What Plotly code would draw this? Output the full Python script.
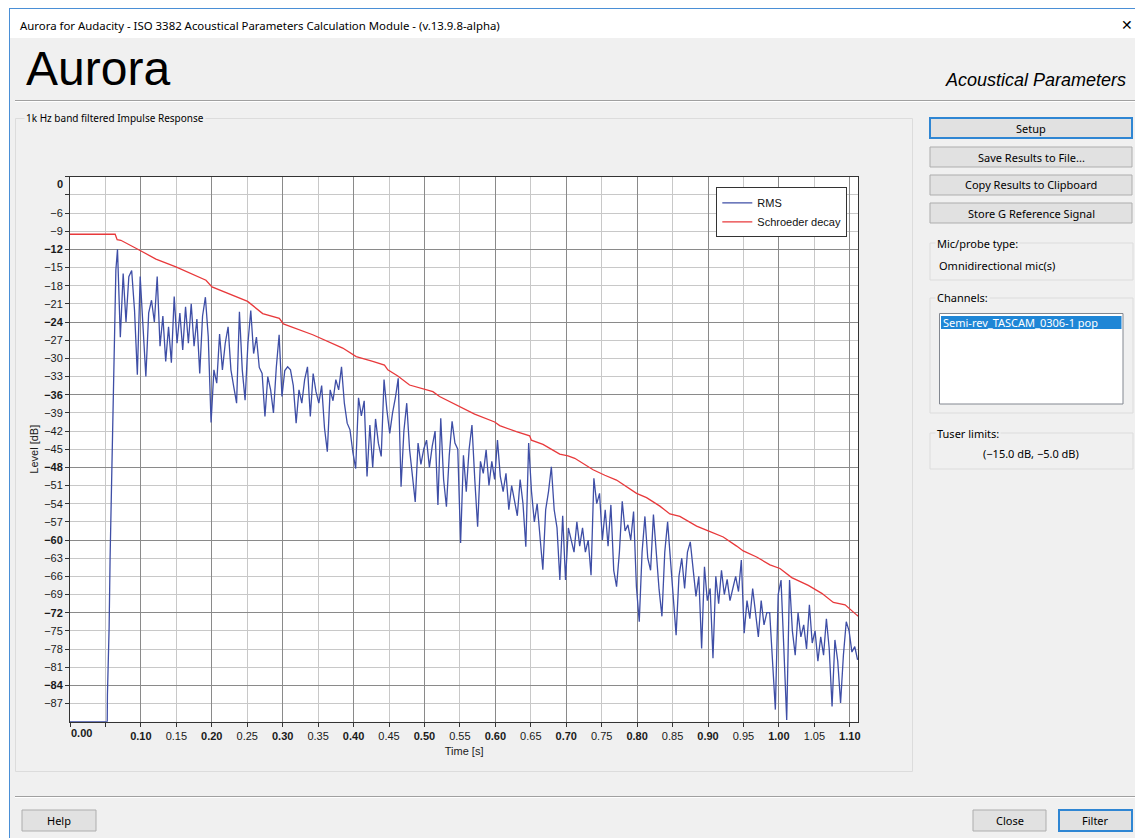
import plotly.graph_objects as go

W, H = 1135, 838

# ---------------- data ----------------
# RMS onset (before the direct sound peak)
ONSET_TIME = [0.0, 0.0525, 0.0528, 0.0552, 0.0566, 0.0585, 0.0599, 0.0613, 0.0633, 0.0647]
ONSET_LEVEL = [-90, -90, -85.5, -74.4, -62.7, -52.0, -46.8, -36.9, -25.8, -15.4]

# RMS decay, sampled every DECAY_DT seconds from DECAY_T0
DECAY_T0 = 0.067
DECAY_DT = 0.004
RMS_LEVEL = [
    -12.0, -26.5, -16.0, -24.0, -16.5, -15.5, -22.0, -32.7, -16.5, -25.0,
    -33.0, -22.5, -20.4, -24.0, -16.5, -28.0, -23.0, -30.5, -24.8, -30.7,
    -19.8, -27.5, -22.5, -28.6, -21.5, -27.5, -21.0, -28.0, -23.5, -32.5,
    -23.0, -19.9, -26.4, -40.6, -31.9, -34.1, -26.0, -31.9, -27.5, -24.8,
    -31.9, -34.7, -37.4, -22.3, -31.9, -36.9, -27.5, -22.1, -29.2, -26.5,
    -31.5, -32.5, -39.6, -33.0, -35.2, -39.0, -31.5, -26.1, -36.3, -32.0,
    -31.4, -31.9, -34.5, -40.7, -35.2, -37.4, -33.5, -31.4, -39.6, -32.5,
    -35.5, -37.4, -34.5, -41.5, -45.4, -35.2, -37.0, -33.5, -35.2, -31.4,
    -37.4, -40.7, -41.8, -45.5, -48.2, -36.5, -39.5, -37.0, -49.5, -41.0,
    -48.0, -40.0, -44.0, -46.2, -33.5, -38.5, -42.4, -39.0, -36.5, -33.3,
    -51.2, -42.0, -37.4, -45.0, -49.0, -53.7, -44.0, -47.5, -45.0, -43.5,
    -48.0, -44.5, -42.0, -54.2, -39.9, -50.0, -54.5, -46.0, -40.4, -44.0,
    -45.0, -60.5, -46.0, -52.0, -45.0, -41.0, -50.0, -57.8, -47.0, -49.0,
    -45.1, -51.0, -47.0, -50.0, -43.5, -49.5, -52.0, -49.0, -55.0, -51.0,
    -53.5, -56.0, -50.0, -54.0, -61.1, -44.0, -52.0, -57.0, -54.0, -60.0,
    -64.9, -55.0, -52.0, -47.9, -55.0, -58.0, -66.6, -56.0, -66.6, -58.0,
    -60.0, -62.0, -57.0, -61.0, -58.0, -62.0, -60.0, -65.8, -49.8, -54.0,
    -52.3, -60.0, -55.0, -61.0, -54.2, -65.0, -67.7, -62.0, -53.6, -58.5,
    -57.5, -60.0, -55.3, -67.7, -73.5, -62.0, -56.1, -63.0, -65.0, -55.8,
    -62.0, -68.2, -72.6, -62.0, -57.0, -63.0, -69.5, -75.7, -66.0, -63.0,
    -68.0, -62.0, -60.3, -65.0, -69.3, -66.0, -77.9, -64.4, -70.0, -68.0,
    -79.5, -66.0, -70.5, -65.0, -69.0, -66.5, -70.0, -68.0, -66.0, -68.5,
    -63.3, -75.4, -70.0, -73.0, -68.0, -72.0, -76.0, -70.0, -74.0, -72.0,
    -72.0, -80.0, -88.0, -69.0, -66.6, -78.0, -89.7, -66.6, -75.0, -79.0,
    -72.0, -76.0, -74.0, -78.0, -70.7, -77.0, -75.0, -80.0, -76.0, -79.0,
    -73.0, -78.0, -87.5, -76.5, -80.0, -86.9, -79.0, -73.5, -75.0, -78.5,
    -77.6, -79.8,
]

SCHROEDER_TIME = [0.0, 0.0637, 0.0665, 0.0717, 0.0976, 0.1212, 0.1494, 0.1918, 0.2003, 0.2388,
                  0.2506, 0.2718, 0.2953, 0.3010, 0.3424, 0.3847, 0.4037, 0.4271, 0.4436, 0.4483,
                  0.4624, 0.4790, 0.4907, 0.5119, 0.5213, 0.5496, 0.5708, 0.5991, 0.6061, 0.6297,
                  0.6484, 0.6508, 0.6672, 0.6908, 0.7025, 0.7120, 0.7379, 0.7544, 0.7709, 0.7992,
                  0.8133, 0.8321, 0.8462, 0.8603, 0.8839, 0.9003, 0.9215, 0.9404, 0.9497, 0.9686,
                  0.9874, 1.0015, 1.0181, 1.0415, 1.0605, 1.0768, 1.0934, 1.1099, 1.112]
SCHROEDER_LEVEL = [-9.5, -9.5, -10.4, -10.5, -12.1, -13.6, -14.9, -17.1, -18.2, -20.1,
                   -20.6, -22.6, -23.4, -24.3, -26.1, -28.3, -29.7, -30.5, -31.1, -31.9,
                   -32.9, -34.4, -34.8, -35.5, -36.3, -38.0, -39.2, -40.5, -41.1, -42.1,
                   -42.8, -43.5, -44.2, -45.8, -46.1, -46.5, -48.4, -49.3, -50.1, -52.3,
                   -53.0, -54.4, -55.7, -56.1, -57.7, -58.5, -59.5, -61.0, -61.8, -62.8,
                   -64.1, -64.7, -66.2, -67.5, -68.8, -70.3, -70.7, -72.4, -72.6]

Y_TICKS = [0, -3, -6, -9, -12, -15, -18, -21, -24, -27, -30, -33, -36, -39, -42, -45,
           -48, -51, -54, -57, -60, -63, -66, -69, -72, -75, -78, -81, -84, -87]
Y_MAJOR = [-12, -24, -36, -48, -60, -72, -84]
X_TICKS = [0.0, 0.05, 0.10, 0.15, 0.20, 0.25, 0.30, 0.35, 0.40, 0.45, 0.50, 0.55, 0.60,
           0.65, 0.70, 0.75, 0.80, 0.85, 0.90, 0.95, 1.00, 1.05, 1.10]
X_MAJOR = [0.10, 0.20, 0.30, 0.40, 0.50, 0.60, 0.70, 0.80, 0.90, 1.00, 1.10]
X_RANGE = [0.0, 1.112]
Y_RANGE = [-90, 0]

rms_time = ONSET_TIME + [round(DECAY_T0 + DECAY_DT * i, 4) for i in range(len(RMS_LEVEL))]
rms_level = ONSET_LEVEL + RMS_LEVEL


def ylab(v):
    if v in (0, -3):
        return ""
    s = "\u2212%d" % (-v)
    return "<b>%s</b>" % s if v % 12 == 0 else s


def xlab(k, v):
    if k < 2:
        return ""
    s = "%.2f" % v
    return "<b>%s</b>" % s if k % 2 == 0 else s


y_text = [ylab(v) for v in Y_TICKS]
x_text = [xlab(k, v) for k, v in enumerate(X_TICKS)]

# ---------------- helpers for page layout (pixels -> paper) ----------------
def X(px):
    return px / W


def Y(py):
    return 1 - py / H


GUI = "Noto Sans"
CH = "Liberation Sans"

fig = go.Figure()
fig.add_trace(go.Scatter(x=rms_time, y=rms_level, mode="lines", name="RMS",
                         line=dict(color="#3e4ea6", width=1.3), xaxis="x", yaxis="y"))
fig.add_trace(go.Scatter(x=SCHROEDER_TIME, y=SCHROEDER_LEVEL, mode="lines", name="Schroeder decay",
                         line=dict(color="#e8393b", width=1.3), xaxis="x2", yaxis="y2"))

xdom = [X(70), X(858.3)]
ydom = [Y(721.7), Y(176.7)]
tickfont = dict(family=CH, size=11, color="#1a1a1a")

shapes = []
annotations = []


def rect(x0, y0, x1, y1, fill="rgba(0,0,0,0)", line="#dcdcdc", lw=1):
    shapes.append(dict(type="rect", xref="paper", yref="paper", x0=X(x0), x1=X(x1),
                       y0=Y(y0), y1=Y(y1), fillcolor=fill,
                       line=dict(color=line, width=lw), layer="above"))


def seg(x0, y0, x1, y1, color, lw=1):
    shapes.append(dict(type="line", xref="paper", yref="paper", x0=X(x0), x1=X(x1),
                       y0=Y(y0), y1=Y(y1), line=dict(color=color, width=lw), layer="above"))


def txt(x, y, s, size=11, family=GUI, color="#000000", xanchor="left", bg=None):
    a = dict(x=X(x), y=Y(y), xref="paper", yref="paper", text=s, showarrow=False,
             xanchor=xanchor, yanchor="middle", font=dict(family=family, size=size, color=color))
    if bg:
        a["bgcolor"] = bg
    annotations.append(a)


# window chrome
rect(0, 0, W, 38, fill="#ffffff", line="#ffffff", lw=0)
rect(0, 0, 9, H, fill="#ffffff", line="#ffffff", lw=0)
seg(9.5, 8, 9.5, H, "#4a8fd6")
seg(9, 8.5, W, 8.5, "#4a8fd6")
txt(18, 25, "Aurora for Audacity - ISO 3382 Acoustical Parameters Calculation Module - (v.13.9.8-alpha)", size=11.4)
txt(1127, 24, "\u2715", size=14, xanchor="center")
txt(24, 68, "Aurora", size=48, family=CH)
txt(1128, 80, "<i>Acoustical Parameters</i>", size=18, family=CH, xanchor="right")
seg(15, 100.5, W, 100.5, "#a0a0a0")
seg(15, 101.5, W, 101.5, "#ffffff")

# chart group box
rect(15.5, 118.5, 912.5, 771.5)
txt(24, 118, "1k Hz band filtered Impulse Response", size=10, bg="#f0f0f0")

# right panel buttons
for (y0, label, focus) in [(118, "Setup", True), (147, "Save Results to File...", False),
                           (175, "Copy Results to Clipboard", False),
                           (203, "Store G Reference Signal", False)]:
    rect(930, y0, 1132, y0 + 20, fill="#e1e1e1",
         line="#2f86d3" if focus else "#adadad", lw=2 if focus else 1)
    txt(1031, y0 + 10, label, size=11, xanchor="center")

rect(930, 243, 1133, 280)
txt(935, 243, "Mic/probe type:", size=11, bg="#f0f0f0")
txt(937, 265, "Omnidirectional mic(s)", size=11)

rect(930, 298, 1133, 413)
txt(935, 298, "Channels:", size=11, bg="#f0f0f0")
rect(939.5, 313.5, 1123, 404, fill="#ffffff", line="#828790")
rect(941, 316, 1121.5, 329, fill="#1f86d6", line="#1f86d6", lw=0)
txt(941, 322.5, "Semi-rev_TASCAM_0306-1 pop", size=11, color="#ffffff")

rect(930, 433, 1133, 469)
txt(935, 433, "Tuser limits:", size=11, bg="#f0f0f0")
txt(1031, 453.5, "(\u221215.0 dB, \u22125.0 dB)", size=11, xanchor="center")

# bottom bar
seg(15, 796.5, W, 796.5, "#a0a0a0")
seg(15, 797.5, W, 797.5, "#ffffff")
for (x0, x1, label, focus) in [(22, 96, "Help", False), (973, 1046, "Close", False),
                               (1059, 1132, "Filter", True)]:
    rect(x0, 810, x1, 831, fill="#e1e1e1",
         line="#2f86d3" if focus else "#adadad", lw=2 if focus else 1)
    txt((x0 + x1) / 2, 820.5, label, size=11, xanchor="center")

# displaced end tick labels (as the application draws them)
txt(65, 184, "<b>0</b>", size=11, family=CH, color="#1a1a1a", xanchor="right")
txt(69, 733, "<b>0.00</b>", size=11, family=CH, color="#1a1a1a", xanchor="left")

fig.update_layout(
    width=W, height=H,
    margin=dict(l=0, r=0, t=0, b=0, pad=0),
    paper_bgcolor="#f0f0f0", plot_bgcolor="#ffffff",
    showlegend=True,
    legend=dict(x=X(847.3), y=Y(187.3), xanchor="right", yanchor="top",
                bgcolor="#ffffff", bordercolor="#333333", borderwidth=1,
                font=dict(family=CH, size=11, color="#111111"),
                itemwidth=30, tracegroupgap=0),
    xaxis=dict(domain=xdom, range=X_RANGE, tickmode="array", tickvals=X_TICKS, ticktext=x_text,
               ticks="outside", ticklen=4, tickcolor="#333333", tickfont=tickfont,
               showgrid=True, gridcolor="#c8c8c8", gridwidth=1, zeroline=False,
               showline=True, linecolor="#333333", linewidth=1, mirror=True,
               title=dict(text="Time [s]", font=dict(family=CH, size=11, color="#1a1a1a"), standoff=6),
               automargin=False, anchor="y", fixedrange=True),
    yaxis=dict(domain=ydom, range=Y_RANGE, tickmode="array", tickvals=Y_TICKS, ticktext=y_text,
               ticks="outside", ticklen=4, tickcolor="#333333", tickfont=tickfont,
               showgrid=True, gridcolor="#c8c8c8", gridwidth=1, zeroline=False,
               showline=True, linecolor="#333333", linewidth=1, mirror=True,
               title=dict(text="Level [dB]", font=dict(family=CH, size=11, color="#1a1a1a"), standoff=3),
               automargin=False, anchor="x", fixedrange=True),
    xaxis2=dict(domain=xdom, range=X_RANGE, overlaying="x", anchor="y2", tickmode="array",
                tickvals=X_MAJOR, showticklabels=False, ticks="", showgrid=True,
                gridcolor="#8a8a8a", gridwidth=1, zeroline=False, showline=False, fixedrange=True),
    yaxis2=dict(domain=ydom, range=Y_RANGE, overlaying="y", anchor="x2", tickmode="array",
                tickvals=Y_MAJOR, showticklabels=False, ticks="", showgrid=True,
                gridcolor="#8a8a8a", gridwidth=1, zeroline=False, showline=False, fixedrange=True),
    shapes=shapes,
    annotations=annotations,
)

fig.write_html("out.html", config={"displayModeBar": False},
               post_script="document.body.style.margin='0';document.body.style.overflow='hidden';")
